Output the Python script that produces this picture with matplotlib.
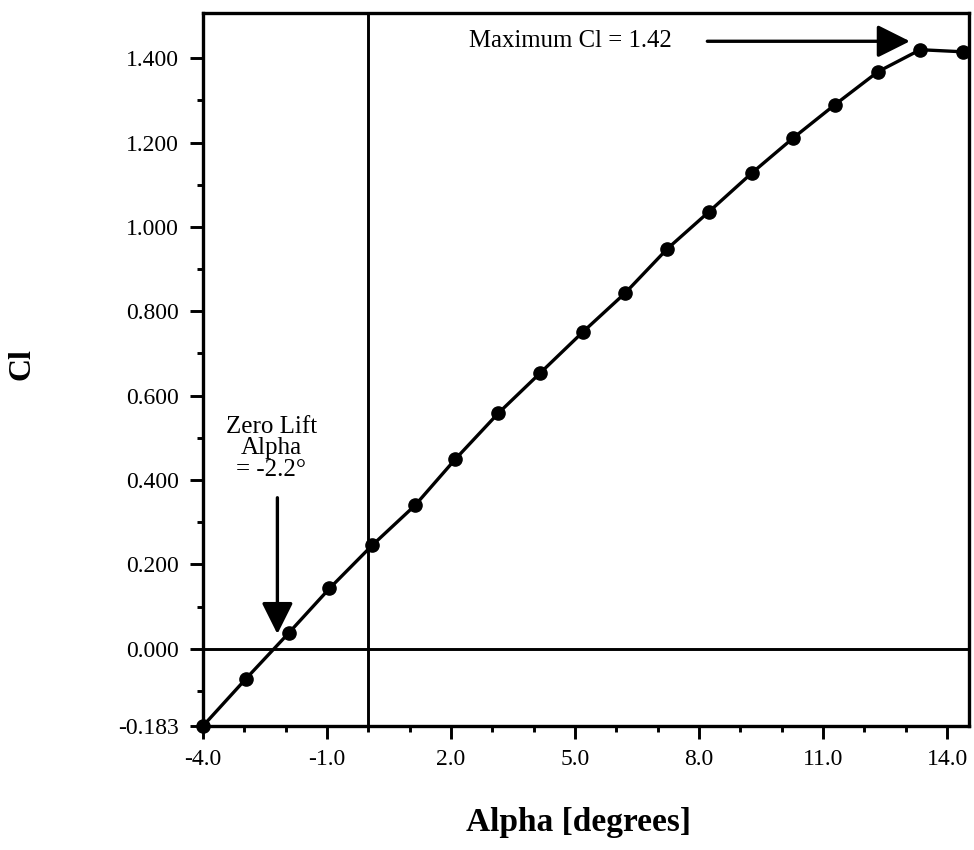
import matplotlib
matplotlib.use("Agg")
import matplotlib.pyplot as plt
from matplotlib.ticker import MultipleLocator, FixedLocator

# Datos de la polar: angulo de ataque y coeficiente de sustentacion
alpha = [-4.00, -2.96, -1.92, -0.94, 0.09, 1.13, 2.10, 3.14, 4.15, 5.19,
         6.21, 7.23, 8.24, 9.28, 10.28, 11.29, 12.33, 13.35, 14.39]
cl = [-0.183, -0.071, 0.038, 0.143, 0.245, 0.340, 0.449, 0.558, 0.653, 0.751,
      0.843, 0.948, 1.036, 1.128, 1.211, 1.290, 1.368, 1.420, 1.415]

x_ticks = [-4.0, -1.0, 2.0, 5.0, 8.0, 11.0, 14.0]
y_ticks = [-0.183, 0.0, 0.2, 0.4, 0.6, 0.8, 1.0, 1.2, 1.4]

cl_max = 1.42
alpha_cero = -2.2

fuente = "Liberation Serif"

fig = plt.figure(figsize=(9.74, 8.5), dpi=100)
ax = fig.add_axes([0.2084, 0.1459, 0.7865, 0.8388])

# Curva con sus puntos
ax.plot(alpha, cl, color="black", lw=2.4, marker="o", ms=9.5,
        mfc="black", mec="black", clip_on=False, zorder=4)

# Ejes de referencia en alpha = 0 y Cl = 0
ax.axvline(0.0, color="black", lw=2.1, zorder=2)
ax.axhline(0.0, color="black", lw=2.1, zorder=2)

ax.set_xlim(-4.0, 14.53)
ax.set_ylim(-0.183, 1.507)

ax.xaxis.set_major_locator(FixedLocator(x_ticks))
ax.xaxis.set_minor_locator(MultipleLocator(1.0))
ax.yaxis.set_major_locator(FixedLocator(y_ticks))
ax.yaxis.set_minor_locator(FixedLocator([-0.1, 0.1, 0.3, 0.5, 0.7, 0.9, 1.1, 1.3]))
ax.set_xticklabels([f"{v:.1f}" for v in x_ticks])
ax.set_yticklabels([f"{v:.3f}" for v in y_ticks])

ax.tick_params(which="major", direction="out", length=9.5, width=2.1,
               labelsize=17, pad=7)
ax.tick_params(which="minor", direction="out", length=4.5, width=2.1)
ax.tick_params(axis="y", which="major", pad=8)
ax.tick_params(top=False, right=False, which="both")
for lab in ax.get_xticklabels() + ax.get_yticklabels():
    lab.set_family(fuente)

for s in ax.spines.values():
    s.set_linewidth(2.4)

# Etiquetas de los ejes
fig.text(578 / 974, 1 - 822 / 850, "Alpha [degrees]", family=fuente,
         fontweight="bold", fontsize=24, ha="center", va="center")
fig.text(22 / 974, 1 - 364 / 850, "Cl", family=fuente, fontweight="bold",
         fontsize=23, rotation=90, ha="center", va="center")

# Anotacion del Cl maximo
ax.text(7.35, cl_max + 0.02, f"Maximum Cl = {cl_max:.2f}", family=fuente,
        fontsize=17.8, ha="right", va="center")
ax.annotate("", xy=(13.1, cl_max + 0.02), xytext=(8.2, cl_max + 0.02),
            arrowprops=dict(arrowstyle="-|>,head_length=0.4,head_width=0.2",
                            mutation_scale=50, lw=2.4, color="black",
                            shrinkA=0, shrinkB=0))

# Anotacion del angulo de sustentacion nula
ax.text(-2.35, 0.475, f"Zero Lift\nAlpha\n= {alpha_cero}°", family=fuente,
        fontsize=18, ha="center", va="center", multialignment="center",
        linespacing=0.95)
ax.annotate("", xy=(alpha_cero, 0.035), xytext=(alpha_cero, 0.358),
            arrowprops=dict(arrowstyle="-|>,head_length=0.4,head_width=0.2",
                            mutation_scale=48, lw=2.4, color="black",
                            shrinkA=0, shrinkB=0))

fig.savefig("out.png", dpi=100, facecolor="white")
